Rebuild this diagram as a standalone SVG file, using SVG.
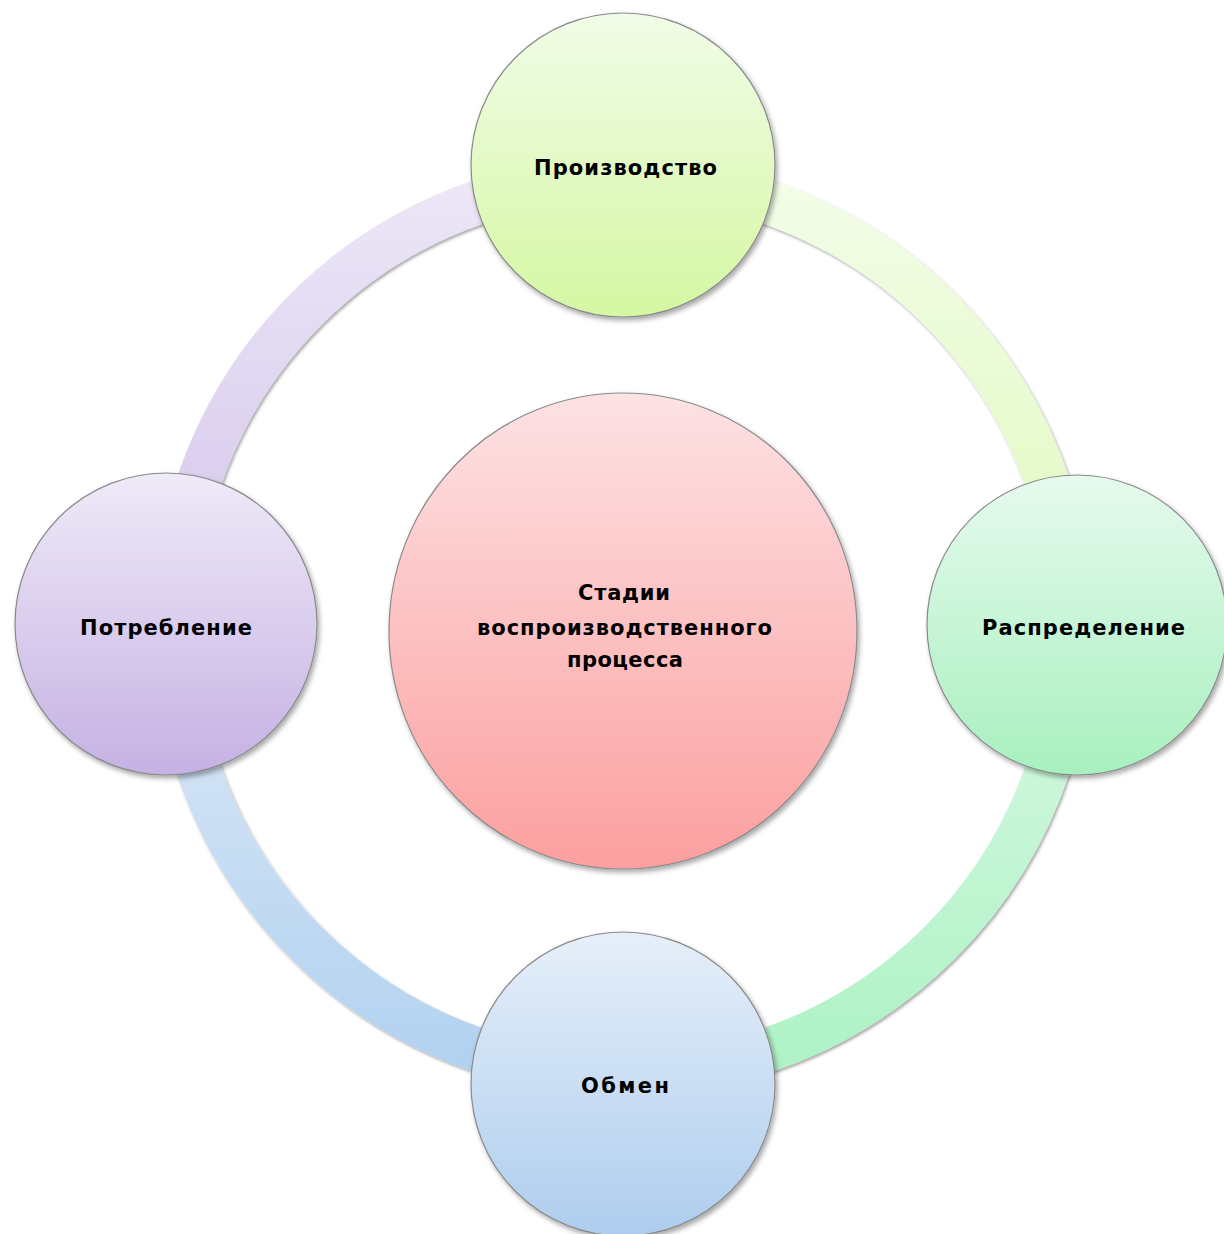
<svg xmlns="http://www.w3.org/2000/svg" width="1224" height="1234" viewBox="0 0 1224 1234">
<style>
.node{stroke:#8a8a8a;stroke-width:1.2;filter:url(#sh)}
.arc{fill:none;stroke-width:44;filter:url(#sh2)}
.lbl{font-family:"DejaVu Sans","Liberation Sans",sans-serif;font-weight:bold;font-size:21px;fill:#000;text-anchor:middle}
</style>
<defs>
<filter id="sh" x="-10%" y="-10%" width="125%" height="125%">
<feDropShadow dx="2" dy="3" stdDeviation="2.5" flood-color="#000" flood-opacity="0.35"/>
</filter>
<filter id="sh2" x="-10%" y="-10%" width="125%" height="125%">
<feDropShadow dx="1.5" dy="2" stdDeviation="1.5" flood-color="#000" flood-opacity="0.35"/>
</filter>
<linearGradient id="gTop" x1="0" y1="0" x2="0" y2="1"><stop offset="0" stop-color="#f1fce8"/><stop offset="1" stop-color="#d5f7a2"/></linearGradient>
<linearGradient id="gRight" x1="0" y1="0" x2="0" y2="1"><stop offset="0" stop-color="#e6faee"/><stop offset="1" stop-color="#a8f0bf"/></linearGradient>
<linearGradient id="gBottom" x1="0" y1="0" x2="0" y2="1"><stop offset="0" stop-color="#e6eff9"/><stop offset="1" stop-color="#aecdee"/></linearGradient>
<linearGradient id="gLeft" x1="0" y1="0" x2="0" y2="1"><stop offset="0" stop-color="#efeaf8"/><stop offset="1" stop-color="#c5b1e3"/></linearGradient>
<linearGradient id="gCenter" x1="0" y1="0" x2="0" y2="1"><stop offset="0" stop-color="#fde2e4"/><stop offset="1" stop-color="#fc9f9f"/></linearGradient>
<linearGradient id="a1" gradientUnits="userSpaceOnUse" x1="0" y1="178" x2="0" y2="626"><stop offset="0" stop-color="#f3fde8"/><stop offset="1" stop-color="#def9bc"/></linearGradient>
<linearGradient id="a2" gradientUnits="userSpaceOnUse" x1="0" y1="626" x2="0" y2="1074"><stop offset="0" stop-color="#daf9e3"/><stop offset="1" stop-color="#adf2c5"/></linearGradient>
<linearGradient id="a3" gradientUnits="userSpaceOnUse" x1="0" y1="626" x2="0" y2="1074"><stop offset="0" stop-color="#dde9f6"/><stop offset="1" stop-color="#b1d1f0"/></linearGradient>
<linearGradient id="a4" gradientUnits="userSpaceOnUse" x1="0" y1="178" x2="0" y2="626"><stop offset="0" stop-color="#ede7f7"/><stop offset="1" stop-color="#d2c4ea"/></linearGradient>
</defs>
<rect width="1224" height="1234" fill="#fff"/>
<g id="connectors">
<path class="arc" stroke="url(#a1)" d="M623,178 A448,448 0 0 1 1071,626"/>
<path class="arc" stroke="url(#a2)" d="M1071,626 A448,448 0 0 1 623,1074"/>
<path class="arc" stroke="url(#a3)" d="M623,1074 A448,448 0 0 1 175,626"/>
<path class="arc" stroke="url(#a4)" d="M175,626 A448,448 0 0 1 623,178"/>
</g>
<g id="center">
<ellipse class="node" cx="623" cy="631" rx="234" ry="238" fill="url(#gCenter)"/>
<text class="lbl"><tspan x="624" y="600" textLength="92" lengthAdjust="spacing">Стадии</tspan><tspan x="624.5" y="635" textLength="295" lengthAdjust="spacing">воспроизводственного</tspan><tspan x="625" y="667" textLength="116" lengthAdjust="spacing">процесса</tspan></text>
</g>
<g id="production">
<circle class="node" cx="623" cy="165" r="152" fill="url(#gTop)"/>
<text class="lbl" x="625.5" y="175" textLength="183" lengthAdjust="spacing">Производство</text>
</g>
<g id="distribution">
<circle class="node" cx="1077" cy="625" r="150" fill="url(#gRight)"/>
<text class="lbl" x="1083.5" y="635" textLength="203" lengthAdjust="spacing">Распределение</text>
</g>
<g id="exchange">
<circle class="node" cx="623" cy="1084" r="152" fill="url(#gBottom)"/>
<text class="lbl" x="625" y="1093" textLength="88" lengthAdjust="spacing">Обмен</text>
</g>
<g id="consumption">
<circle class="node" cx="166" cy="624" r="151" fill="url(#gLeft)"/>
<text class="lbl" x="166" y="635" textLength="172" lengthAdjust="spacing">Потребление</text>
</g>
</svg>
